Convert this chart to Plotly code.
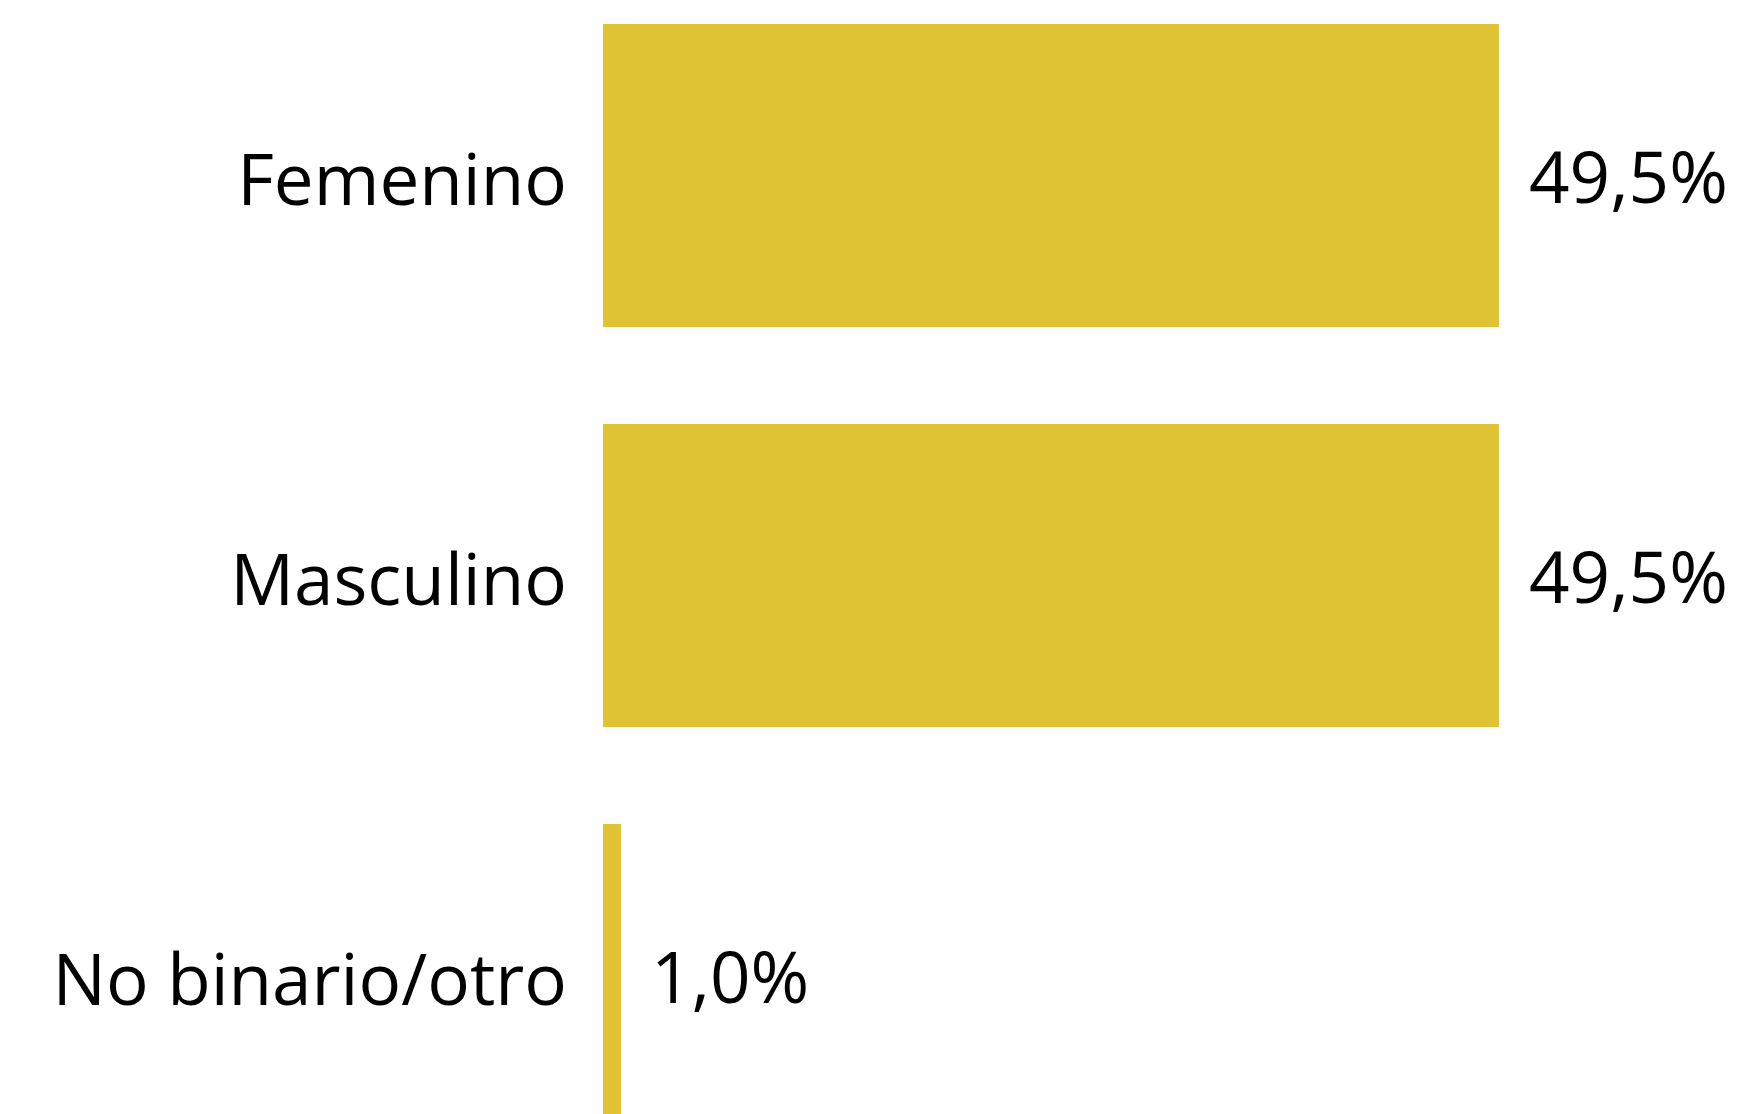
import plotly.graph_objects as go

categories = ["Femenino", "Masculino", "No binario/otro"]
values = [49.5, 49.5, 1.0]

BAR_COLOR = "#E0C333"
FONT = "Open Sans"
SIZE = 71

fig = go.Figure(
    go.Bar(
        x=values,
        y=categories,
        orientation="h",
        marker=dict(color=BAR_COLOR, line=dict(width=0)),
        hoverinfo="skip",
    )
)

for cat, v in zip(categories, values):
    fig.add_annotation(
        x=v,
        y=cat,
        xref="x",
        yref="y",
        text=f"{v:.1f}".replace(".", ",") + "%",
        showarrow=False,
        xanchor="left",
        yanchor="middle",
        xshift=28,
        font=dict(family=FONT, size=SIZE, color="black"),
    )

fig.update_layout(
    width=1736,
    height=1106,
    margin=dict(l=595, r=0, t=0, b=0),
    paper_bgcolor="white",
    plot_bgcolor="white",
    separators=",.",
    bargap=0.2425,
    showlegend=False,
    font=dict(family=FONT, color="black"),
)
fig.update_xaxes(range=[0, 63.04], visible=False, fixedrange=True)
fig.update_yaxes(
    range=[2.34625, -0.41875],
    showgrid=False,
    zeroline=False,
    showline=False,
    ticks="",
    ticklabelstandoff=35,
    ticklabelshift=-5,
    tickfont=dict(family=FONT, size=SIZE, color="black"),
    fixedrange=True,
)

fig.write_html("out.html")
